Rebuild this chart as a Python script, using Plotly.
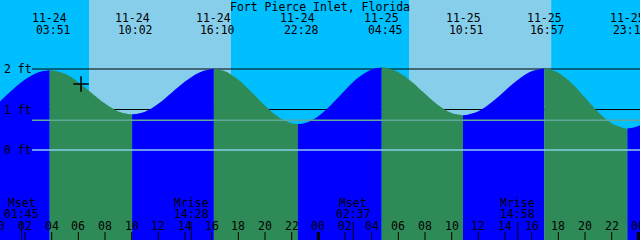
import plotly.graph_objects as go

# ---- data (hours since 11-24 00:00, levels in ft) ----
hours = list(range(0, 50))
hour_levels = [1.16, 1.47, 1.74, 1.92, 1.968, 1.88, 1.676, 1.409, 1.146, 0.953,
               0.880, 0.947, 1.140, 1.412, 1.689, 1.903, 1.998, 1.943, 1.735, 1.426,
               1.093, 0.814, 0.658, 0.665, 0.836, 1.130, 1.476, 1.788, 1.991, 2.035,
               1.922, 1.686, 1.389, 1.108, 0.916, 0.862, 0.958, 1.178, 1.464, 1.743,
               1.942, 2.010, 1.909, 1.649, 1.295, 0.934, 0.658, 0.533, 0.592, 0.82]

extreme_times = [3.85, 10.033, 16.167, 22.467, 28.75, 34.85, 40.95, 47.183]
extreme_levels = [1.97, 0.88, 2.00, 0.64, 2.04, 0.86, 2.01, 0.53]
extreme_dates = ["11-24", "11-24", "11-24", "11-24", "11-25", "11-25", "11-25", "11-25"]
extreme_clock = ["03:51", "10:02", "16:10", "22:28", "04:45", "10:51", "16:57", "23:11"]

moon_times = [1.75, 14.467, 26.617, 38.967]
moon_names = ["Mset", "Mrise", "Mset", "Mrise"]
moon_clock = ["01:45", "14:28", "02:37", "14:58"]

sunrise_times = [6.80, 30.80]
sunset_times = [17.45, 41.47]

tick_hours = list(range(0, 50, 2))
tick_labels = ["%02d" % (h % 24) for h in tick_hours]

level_lines = [2, 1]            # black datum lines
level_labels = ["2 ft", "1 ft", "0 ft"]
level_label_values = [2, 1, 0]
msl_level = 0.733
datum_level = 0.0

now_time = 6.2
now_level = 1.63

title = "Fort Pierce Inlet, Florida"

# ---- style ----
NIGHT = "#00BFFF"
DAY = "#87CEEB"
RISE = "#0000FF"
FALL = "#2E8B57"
FONT = dict(family="DejaVu Sans Mono", size=11.5, color="black")
X_RANGE = [0.125, 48.125]
Y_RANGE = [-2.222, 3.704]
H = 240.0


def py(pix):
    return 1 - pix / H


fig = go.Figure()

# tide fill segments
pts = sorted(zip(hours + extreme_times, hour_levels + extreme_levels))
bounds = [hours[0]] + extreme_times + [hours[-1]]
for i in range(len(bounds) - 1):
    a, b = bounds[i], bounds[i + 1]
    seg = [(t, l) for t, l in pts if a <= t <= b]
    rising = seg[-1][1] > seg[0][1]
    col = RISE if rising else FALL
    fig.add_trace(go.Scatter(x=[a, b], y=[Y_RANGE[0] - 1] * 2, mode="lines",
                             line=dict(width=0), hoverinfo="skip"))
    fig.add_trace(go.Scatter(x=[p[0] for p in seg], y=[p[1] for p in seg],
                             mode="lines", fill="tonexty", fillcolor=col,
                             line=dict(width=0, shape="spline", color=col),
                             hoverinfo="skip"))

# now marker
fig.add_trace(go.Scatter(x=[now_time], y=[now_level], mode="markers",
                         marker=dict(symbol="cross-thin", size=11,
                                     line=dict(color="black", width=1.5)),
                         hoverinfo="skip"))

shapes = []
# day bands
for sr, ss in zip(sunrise_times, sunset_times):
    shapes.append(dict(type="rect", xref="x", yref="paper", x0=sr, x1=ss, y0=0, y1=1,
                       fillcolor=DAY, line=dict(width=0), layer="below"))
# black level lines (under tide)
for lv in level_lines:
    shapes.append(dict(type="line", xref="paper", yref="y", x0=32 / 640, x1=1,
                       y0=lv, y1=lv, line=dict(color="black", width=1), layer="below"))
# MSL and datum lines (over tide)
shapes.append(dict(type="line", xref="paper", yref="y", x0=32 / 640, x1=1,
                   y0=msl_level, y1=msl_level, line=dict(color="#5FA89A", width=1.5),
                   layer="above"))
shapes.append(dict(type="line", xref="paper", yref="y", x0=32 / 640, x1=1,
                   y0=datum_level, y1=datum_level, line=dict(color=DAY, width=1.5),
                   layer="above"))
# hour ticks
for h in tick_hours:
    w = 3 if h % 24 == 0 else 1
    shapes.append(dict(type="line", xref="x", yref="paper", x0=h, x1=h,
                       y0=py(240), y1=py(232), line=dict(color="black", width=w),
                       layer="above"))
# moon ticks
for m in moon_times:
    shapes.append(dict(type="line", xref="x", yref="paper", x0=m, x1=m,
                       y0=py(240), y1=py(222), line=dict(color="black", width=1),
                       layer="above"))

ann = []
ann.append(dict(text=title, xref="paper", yref="paper", x=319.5 / 640, y=py(6.5),
                showarrow=False, font=FONT, xanchor="center", yanchor="middle"))
for t, d, c in zip(extreme_times, extreme_dates, extreme_clock):
    ann.append(dict(text=d, xref="x", yref="paper", x=t, y=py(18), showarrow=False,
                    font=FONT, xanchor="center", yanchor="middle"))
    ann.append(dict(text=" " + c, xref="x", yref="paper", x=t, y=py(30), showarrow=False,
                    font=FONT, xanchor="center", yanchor="middle"))
for t, n, c in zip(moon_times, moon_names, moon_clock):
    ann.append(dict(text=n, xref="x", yref="paper", x=t, y=py(202.5), showarrow=False,
                    font=FONT, xanchor="center", yanchor="middle"))
    ann.append(dict(text=c, xref="x", yref="paper", x=t, y=py(214), showarrow=False,
                    font=FONT, xanchor="center", yanchor="middle"))
for h, lab in zip(tick_hours, tick_labels):
    if h < X_RANGE[0]:
        ann.append(dict(text=lab, xref="x", yref="paper", x=X_RANGE[0],
                        xshift=(h - X_RANGE[0]) * 640 / 48, y=py(226), showarrow=False,
                        font=FONT, xanchor="center", yanchor="middle"))
    elif h <= X_RANGE[1]:
        ann.append(dict(text=lab, xref="x", yref="paper", x=h, y=py(226), showarrow=False,
                        font=FONT, xanchor="center", yanchor="middle"))
for lab, lv in zip(level_labels, level_label_values):
    ann.append(dict(text=lab, xref="paper", yref="y", x=2 / 640, y=lv, showarrow=False,
                    font=FONT, xanchor="left", yanchor="middle"))

fig.update_layout(
    width=640, height=240, margin=dict(l=0, r=0, t=0, b=0),
    paper_bgcolor=NIGHT, plot_bgcolor=NIGHT, showlegend=False,
    xaxis=dict(range=X_RANGE, visible=False, fixedrange=True),
    yaxis=dict(range=Y_RANGE, visible=False, fixedrange=True),
    shapes=shapes, annotations=ann,
)

fig.write_html("out.html", include_plotlyjs=True, config={"displayModeBar": False})
